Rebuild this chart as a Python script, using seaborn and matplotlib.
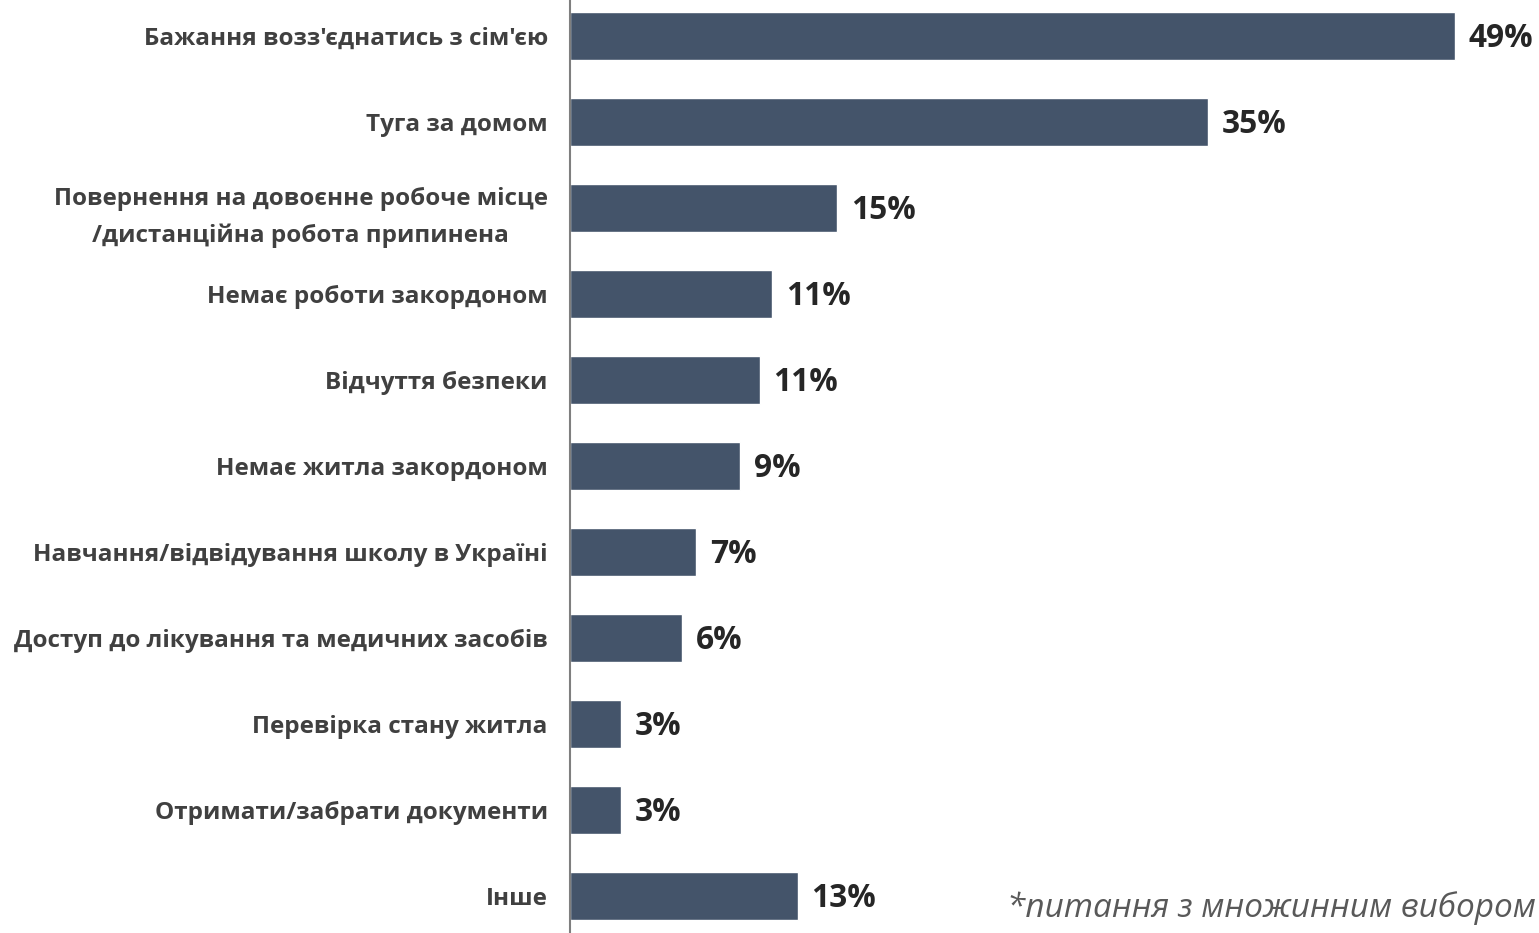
import numpy as np
import pandas as pd
import matplotlib
matplotlib.use("Agg")
import matplotlib.pyplot as plt
import seaborn as sns

# Reasons for returning (share of respondents, %)
reasons = [
    "Бажання возз'єднатись з сім'єю",
    "Туга за домом",
    "Повернення на довоєнне робоче місце\n/дистанційна робота припинена",
    "Немає роботи закордоном",
    "Відчуття безпеки",
    "Немає житла закордоном",
    "Навчання/відвідування школу в Україні",
    "Доступ до лікування та медичних засобів",
    "Перевірка стану житла",
    "Отримати/забрати документи",
    "Інше",
]
values = [49.0, 35.3, 14.8, 11.2, 10.5, 9.4, 7.0, 6.2, 2.8, 2.8, 12.6]
value_labels = ["49%", "35%", "15%", "11%", "11%", "9%", "7%", "6%", "3%", "3%", "13%"]

df = pd.DataFrame({"reason": reasons, "value": values})

sns.set_style("white")
plt.rcParams['font.family'] = ['Open Sans', 'DejaVu Sans']

fig = plt.figure(figsize=(15.39, 9.33), dpi=100)
ax = fig.add_axes([570 / 1539, 0, 969 / 1539, 1])

sns.barplot(data=df, x="value", y="reason", color="#44546A", saturation=1,
            width=0.56, ax=ax)

ax.set_xlim(0, 53.65)
ax.set_ylim(10.43, -0.42)
ax.set_xlabel("")
ax.set_ylabel("")
ax.set_xticks([])

for side in ["top", "right", "bottom"]:
    ax.spines[side].set_visible(False)
ax.spines["left"].set_color("#7f7f7f")
ax.spines["left"].set_linewidth(1.5)

ax.tick_params(axis="y", length=0, pad=16)
for lbl in ax.get_yticklabels():
    lbl.set_fontsize(17.5)
    lbl.set_fontweight("bold")
    lbl.set_color("#404040")
    lbl.set_ha("right")
    lbl.set_multialignment("center")
    lbl.set_linespacing(1.7)

texts = ax.bar_label(ax.containers[0], labels=value_labels, padding=10,
                     fontsize=22.8, fontweight="bold", color="#262626")
for t in texts:
    # nudge down a little so the digits sit on the bar centre
    t.set_y(t.get_position()[1] - 2)

fig.text(0.998, 0.027, "*питання з множинним вибором", ha="right", va="center",
         fontsize=24, style="italic", color="#595959")

fig.savefig("out.png", dpi=100)
